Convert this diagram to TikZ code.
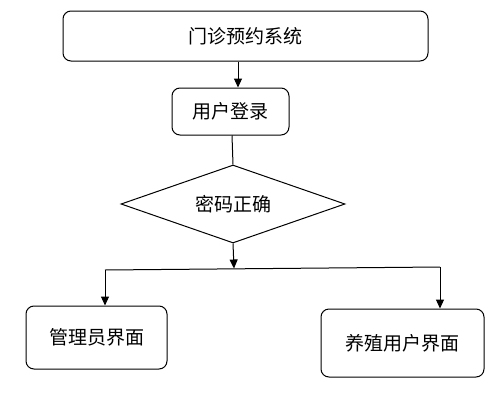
\documentclass[tikz,border=0pt]{standalone}
\usepackage{fontspec}
\setmainfont{Noto Sans CJK SC}
\usetikzlibrary{shapes.geometric,arrows.meta}
\tikzset{
  roundbox/.style={draw,rounded corners=8pt,line width=1pt,inner sep=0pt,font=\fontsize{19pt}{22pt}\selectfont},
  choice/.style={draw,diamond,aspect=2.87,line width=1pt,inner sep=0pt,font=\fontsize{19pt}{22pt}\selectfont},
  arr/.style={-{Triangle[length=9pt,width=8pt]},line width=1pt}
}
\begin{document}
\begin{tikzpicture}[x=1pt,y=-1pt]
\useasboundingbox (0,0) rectangle (504,413);

\node[roundbox,minimum width=365pt,minimum height=50pt] (sys) at (245.5,36) {门诊预约系统};
\node[roundbox,minimum width=117pt,minimum height=47pt] (login) at (230.5,111.5) {用户登录};
\node[choice,minimum width=224pt,minimum height=78pt] (pwd) at (233,204) {密码正确};
\node[roundbox,minimum width=141pt,minimum height=63pt] (admin) at (96.5,337.5) {管理员界面};
\node[roundbox,minimum width=163pt,minimum height=68pt] (user) at (402.5,343) {养殖用户界面};

\coordinate (split) at (234,268.5);
\coordinate (splitL) at (105,270);
\coordinate (splitR) at (440,267);

\draw[arr] (sys.south -| 238,0) -- (login.north -| 238,0);
\draw[line width=1pt] (login.south -| 232,0) -- (pwd.north);
\draw[arr] (pwd.south) -- (split);
\draw[line width=1pt] (splitL) -- (splitR);
\draw[arr] (splitL) -- (admin.north -| splitL);
\draw[arr] (splitR) -- (user.north -| splitR);
\end{tikzpicture}
\end{document}
